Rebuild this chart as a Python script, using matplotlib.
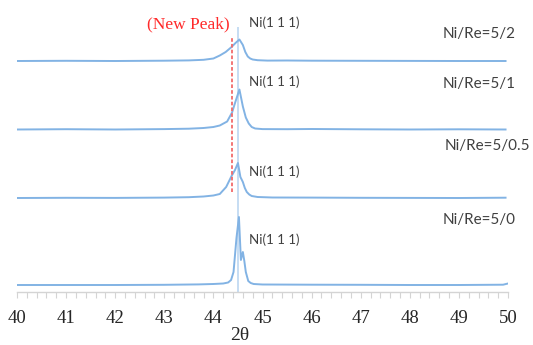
import matplotlib
matplotlib.use("Agg")
import matplotlib.pyplot as plt
from matplotlib.ticker import MultipleLocator

# XRD patterns, 2-theta (deg) vs relative intensity (a.u.)
labels = ["Ni/Re=5/2", "Ni/Re=5/1", "Ni/Re=5/0.5", "Ni/Re=5/0"]
offsets = [231, 162.5, 94, 7]

tt_52 = [40, 41, 42, 43, 43.5, 43.8, 44.0, 44.13, 44.25, 44.37, 44.45, 44.53,
         44.6, 44.65, 44.7, 44.75, 44.8, 44.9, 45.1, 45.5, 46, 47, 48, 49, 49.95]
i_52 = [0, 0.2, 0, 0.3, 0.6, 1.2, 2.5, 5.5, 9, 14, 18, 21.5,
        16, 9, 4.5, 2.5, 1.5, 0.8, 0.4, 0.5, 0.3, 0.2, 0.1, 0, 0]

tt_51 = [40, 41, 42, 43, 43.5, 43.8, 44.0, 44.13, 44.28, 44.38, 44.45, 44.53,
         44.6, 44.66, 44.72, 44.78, 44.85, 45.0, 45.5, 46, 47, 48, 49, 49.95]
i_51 = [0, 0.3, 0, 0.4, 0.8, 1.5, 2.5, 4, 8, 17, 28, 40,
        23, 12, 6, 2.5, 1, 0.4, 0.3, 0.5, 0.2, 0, 0.2, 0]

tt_505 = [40, 41, 42, 43, 43.5, 43.8, 44.0, 44.13, 44.26, 44.37, 44.44, 44.5,
          44.55, 44.6, 44.64, 44.68, 44.73, 44.78, 44.9, 45.2, 46, 47, 48, 49, 49.95]
i_505 = [0, 0.2, 0.1, 0.4, 0.8, 1.5, 2.5, 4, 11, 22, 28, 35,
         21, 16, 10, 6, 3.5, 2, 1, 0.5, 0.4, 0.2, 0.1, 0, 0.3]

tt_50 = [40, 41, 42, 43, 43.7, 44.0, 44.2, 44.3, 44.36, 44.41, 44.47, 44.52,
         44.56, 44.6, 44.63, 44.66, 44.71, 44.76, 44.82, 45.0, 45.5, 46, 47, 48, 49, 49.9, 50]
i_50 = [0, 0, 0, 0.2, 0.6, 1, 1.5, 2.5, 5, 13, 47, 68,
        25, 33, 24, 13, 4, 2, 1, 0.5, 0.4, 0.3, 0.2, 0, 0, 0.3, 1.5]

patterns = [(tt_52, i_52), (tt_51, i_51), (tt_505, i_505), (tt_50, i_50)]

ni111_2theta = 44.5
new_peak_2theta = 44.38

# label positions in pixels (right edge x, centre y)
label_pos = [(516, 34), (516, 84), (530, 146), (516, 220)]
ni_y = [23, 82, 172, 240]

fig = plt.figure(figsize=(5.33, 3.45), dpi=100)
ax = fig.add_axes([17 / 533, 1 - 292 / 345, (508 - 17) / 533, 292 / 345])
ax.set_xlim(40, 50)
ax.set_ylim(0, 292)

curve_color = "#82b3e4"
ax.vlines(ni111_2theta, 0, 265, color="#bcd7f1", lw=1.2, zorder=1)
ax.vlines(new_peak_2theta, 100, 254, color="#f26a6a", lw=1.3,
          linestyles=(0, (2, 1.2)), zorder=3)

for (tt, inten), off in zip(patterns, offsets):
    ax.plot(tt, [v + off for v in inten], color=curve_color, lw=1.4,
            solid_joinstyle="round", zorder=2)

for py in ni_y:
    ax.text(44.73, 292 - py, "Ni(1 1 1)", fontsize=9.5, color="#404040",
            family="Lato", ha="left", va="center")

for lab, (px, py) in zip(labels, label_pos):
    fig.text(px / 533, 1 - py / 345, lab, fontsize=11, color="#404040",
             family="Lato", ha="right", va="center")

fig.text(188 / 533, 1 - 24 / 345, "(New Peak)", fontsize=12.5, color="#ff2a2a",
         family="Liberation Serif", ha="center", va="center")

for s in ["left", "right", "top"]:
    ax.spines[s].set_visible(False)
ax.spines["bottom"].set_color("#d4d4d4")
ax.spines["bottom"].set_linewidth(1)
ax.set_yticks([])
ax.xaxis.set_major_locator(MultipleLocator(1))
ax.xaxis.set_minor_locator(MultipleLocator(0.2))
ax.tick_params(axis="x", which="both", direction="out", length=4, width=0.8,
               color="#d4d4d4", labelsize=13.5, pad=9)
for t in ax.get_xticklabels():
    t.set_family("Liberation Serif")
    t.set_color("#262626")

fig.text(240 / 533, 1 - 336 / 345, "2θ", fontsize=14, color="#262626",
         family="Liberation Serif", ha="center", va="center")

fig.savefig("out.png", dpi=100)
